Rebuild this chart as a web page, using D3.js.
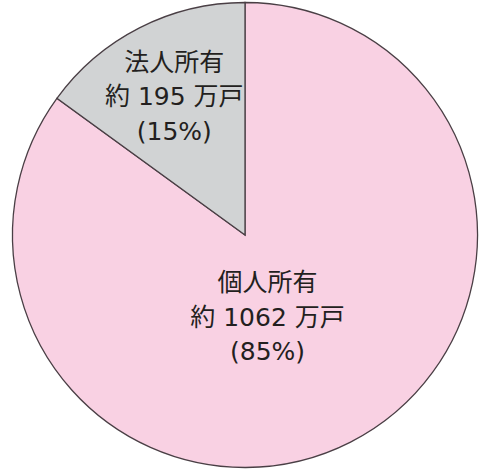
<!DOCTYPE html>
<html>
<head>
<meta charset="utf-8">
<script src="https://cdn.jsdelivr.net/npm/d3@7"></script>
<style>
  body { margin: 0; background: #fff; }
</style>
</head>
<body>
<script>
// 所有者別の戸数
const owners = ["個人所有", "法人所有"];
const households = [1062, 195];   // 万戸
const shares = [85, 15];          // %
const colors = ["#f9d1e3", "#d1d3d4"];

const svgWidth = 500;
const svgHeight = 470;
const cx = 245, cy = 235, radius = 232.5;

const svg = d3.select("body")
    .append("svg")
    .attr("width", svgWidth)
    .attr("height", svgHeight);

const data = owners.map((name, i) => ({ name, households: households[i], share: shares[i] }));

const pie = d3.pie()
    .value(d => d.share)
    .sort(null);

const arc = d3.arc()
    .innerRadius(0)
    .outerRadius(radius);

const g = svg.append("g")
    .attr("transform", `translate(${cx},${cy})`);

const arcs = pie(data);

g.selectAll("path")
    .data(arcs)
    .enter()
    .append("path")
    .attr("d", arc)
    .style("fill", (d, i) => colors[i])
    .style("stroke", "#4a3f45")
    .style("stroke-width", 1.3)
    .style("stroke-linejoin", "miter");

// where each label sits: centroid of a scaled arc, plus a small nudge
const labelRadius = [0.73, 1.34];
const labelNudge = [[-16, 6], [0, 0]];

const lineHeight = 34.5;

arcs.forEach((d, i) => {
    const c = d3.arc().innerRadius(0).outerRadius(radius * labelRadius[i]).centroid(d);
    const lx = c[0] + labelNudge[i][0];
    const ly = c[1] + labelNudge[i][1];
    const lines = [
        d.data.name,
        `約 ${d.data.households} 万戸`,
        `(${d.data.share}%)`
    ];
    g.append("text")
        .attr("x", lx)
        .attr("y", ly)
        .attr("text-anchor", "middle")
        .style("font-family", "'DejaVu Sans', 'Noto Sans CJK JP', sans-serif")
        .style("font-size", "25px")
        .style("font-weight", 400)
        .style("fill", "#231f20")
        .selectAll("tspan")
        .data(lines)
        .enter()
        .append("tspan")
        .attr("x", lx)
        .attr("dy", (t, j) => j === 0 ? (-lineHeight + 9) : lineHeight)
        .text(t => t);
});
</script>
</body>
</html>
